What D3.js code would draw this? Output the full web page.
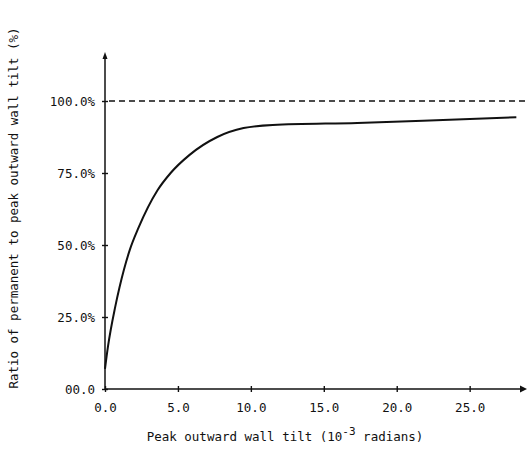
<!DOCTYPE html>
<html lang="en">
<head>
    <meta charset="utf-8" />
    <title>Wall tilt ratio</title>
    <script src="https://d3js.org/d3.v7.min.js"></script>
</head>
<style>
    body { margin: 0; background: #fff; }
    text {
        font-family: "DejaVu Sans Mono", monospace;
        font-size: 12.5px;
        fill: #111;
    }
    .axis path, .axis line { stroke: #111; stroke-width: 1.4px; }
</style>
<body>
    <div id="chart"></div>
</body>
<script>
    // values
    var tiltX = [0, 0.2, 0.7, 1.0, 1.7, 2.3, 3.6, 4.5, 5.8, 7.7, 9.5, 11.5, 17.3, 21.8, 28.2];
    var ratioY = [7, 14.6, 28.5, 35.4, 48.3, 56, 69, 75, 81.3, 87.5, 90.6, 91.7, 92.4, 93.1, 94.4];
    var xTicks = [0, 5, 10, 15, 20, 25];
    var yTicks = [0, 25, 50, 75, 100];
    var refLevel = 100;

    var width = 527, height = 452;
    var x0 = 105, yBase = 389;

    var svg = d3.select("#chart").append("svg")
        .attr("width", width)
        .attr("height", height);

    var x = d3.scaleLinear().domain([0, 29]).range([x0, 528]);
    var y = d3.scaleLinear().domain([0, 100]).range([yBase, 101]);

    // axes
    var xAxis = d3.axisBottom(x).tickValues(xTicks).tickSize(3)
        .tickFormat(function (d) { return d.toFixed(1); });
    var gx = svg.append("g").attr("class", "axis")
        .attr("transform", "translate(0," + yBase + ")")
        .call(xAxis);
    gx.select(".domain").remove();
    gx.selectAll(".tick line").attr("y1", -3).attr("y2", 3);
    gx.selectAll(".tick text").attr("y", 14);

    var yAxis = d3.axisLeft(y).tickValues(yTicks).tickSize(3)
        .tickFormat(function (d) { return d === 0 ? "00.0" : d.toFixed(1) + "%"; });
    var gy = svg.append("g").attr("class", "axis")
        .attr("transform", "translate(" + x0 + ",0)")
        .call(yAxis);
    gy.select(".domain").remove();
    gy.selectAll(".tick line").attr("x1", -3).attr("x2", 3);
    gy.selectAll(".tick text").attr("x", -10);

    // axis lines with arrow heads
    svg.append("line")
        .attr("x1", x0).attr("x2", 522).attr("y1", yBase).attr("y2", yBase)
        .attr("stroke", "#111").attr("stroke-width", 1.5);
    svg.append("path").attr("d", "M527," + yBase + "l-7,-3.5v7z").attr("fill", "#111");
    svg.append("line")
        .attr("x1", x0).attr("x2", x0).attr("y1", yBase).attr("y2", 58)
        .attr("stroke", "#111").attr("stroke-width", 1.5);
    svg.append("path").attr("d", "M" + x0 + ",52l-2.5,7h5z").attr("fill", "#111");

    // 100% reference line
    svg.append("line")
        .attr("x1", x(0) + 4).attr("x2", width)
        .attr("y1", y(refLevel)).attr("y2", y(refLevel))
        .attr("stroke", "#111").attr("stroke-width", 1.3)
        .attr("stroke-dasharray", "6,4");

    // curve
    var pts = tiltX.map(function (d, i) { return [d, ratioY[i]]; });
    var line = d3.line()
        .x(function (d) { return x(d[0]); })
        .y(function (d) { return y(d[1]); })
        .curve(d3.curveMonotoneX);
    svg.append("path")
        .datum(pts)
        .attr("d", line)
        .attr("fill", "none")
        .attr("stroke", "#111")
        .attr("stroke-width", 2);

    // titles
    var xt = svg.append("text")
        .attr("x", 285).attr("y", 441)
        .attr("text-anchor", "middle");
    xt.append("tspan").text("Peak outward wall tilt (10");
    xt.append("tspan").attr("dy", -6).attr("font-size", "11px").text("-3");
    xt.append("tspan").attr("dy", 6).text(" radians)");

    svg.append("text")
        .attr("transform", "translate(18,208) rotate(-90)")
        .attr("text-anchor", "middle")
        .text("Ratio of permanent to peak outward wall tilt (%)");
</script>
</html>
